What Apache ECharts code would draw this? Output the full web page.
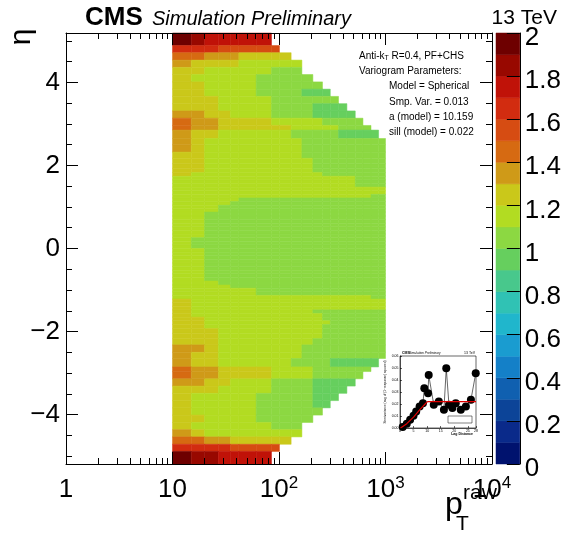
<!DOCTYPE html>
<html>
<head>
<meta charset="utf-8">
<script src="https://cdn.jsdelivr.net/npm/echarts@6/dist/echarts.min.js"></script>
<style>
  html, body { margin: 0; padding: 0; background: #fff; }
  #chart { width: 564px; height: 533px; }
</style>
</head>
<body>
<div id="chart"></div>
<script>
// Raw-pT bin edges (GeV)
const ptEdges = [10, 15, 20, 27, 35, 42, 61, 85, 101, 130, 164, 208, 256, 303, 362, 434, 520, 614, 731, 861, 1000];

// Calorimeter-tower eta edges for |eta|
const etaAbsEdges = [0, 0.087, 0.174, 0.261, 0.348, 0.435, 0.522, 0.609, 0.696, 0.783, 0.879, 0.957,
  1.044, 1.131, 1.218, 1.305, 1.392, 1.479, 1.566, 1.653, 1.740, 1.830, 1.930, 2.043, 2.172, 2.322,
  2.500, 2.650, 2.853, 2.964, 3.139, 3.314, 3.489, 3.664, 3.839, 4.013, 4.191, 4.363, 4.538, 4.716,
  4.889, 5.191];

// Response per (eta row, pT column); rows run from eta = +5.191 down to -5.191,
// each row lists the filled pT bins starting at 10 GeV.
const response = [
  [1.95,1.85,1.75,1.75,1.75,1.75,1.75],
  [1.65,1.65,1.65,1.55,1.55,1.55,1.55,1.55],
  [1.45,1.45,1.35,1.35,1.35,1.25,1.25,1.25,1.25],
  [1.35,1.25,1.25,1.25,1.25,1.15,1.15,1.15,1.15,1.15],
  [1.25,1.25,1.15,1.15,1.15,1.15,1.15,1.05,1.05,1.05],
  [1.25,1.15,1.15,1.15,1.15,1.15,1.05,1.05,1.05,1.05,1.05],
  [1.25,1.25,1.15,1.15,1.15,1.15,1.05,1.05,1.05,1.05,1.05,1.05],
  [1.25,1.25,1.15,1.15,1.15,1.15,1.05,1.05,1.05,1.05,0.95,0.95,0.95],
  [1.25,1.25,1.25,1.15,1.15,1.15,1.15,1.05,1.05,1.05,1.05,1.05,1.05,1.05],
  [1.25,1.25,1.25,1.15,1.15,1.15,1.15,1.05,1.05,1.05,1.05,0.95,0.95,0.95,0.95],
  [1.35,1.35,1.25,1.25,1.15,1.15,1.15,1.05,1.05,1.05,1.05,0.95,0.95,0.95,0.95,0.95],
  [1.45,1.35,1.35,1.25,1.25,1.25,1.25,1.15,1.15,1.15,1.15,1.15,1.05,1.05,1.05,1.05,1.05],
  [1.45,1.35,1.35,1.25,1.25,1.25,1.25,1.25,1.25,1.15,1.15,1.15,1.15,1.15,1.05,1.05,1.05,1.05],
  [1.35,1.25,1.25,1.15,1.15,1.15,1.15,1.15,1.15,1.05,1.05,1.05,1.05,1.05,0.95,0.95,0.95,0.95,0.95],
  [1.35,1.25,1.15,1.15,1.15,1.15,1.15,1.15,1.15,1.15,1.05,1.05,1.05,1.05,1.05,1.05,1.05,1.05,1.05,1.05],
  [1.35,1.25,1.15,1.15,1.15,1.15,1.15,1.15,1.15,1.15,1.05,1.05,1.05,1.05,1.05,1.05,1.05,1.05,1.05,1.05],
  [1.25,1.25,1.15,1.15,1.15,1.15,1.15,1.15,1.15,1.15,1.05,1.05,1.05,1.05,1.05,1.05,1.05,1.05,1.05,1.05],
  [1.25,1.25,1.15,1.15,1.15,1.15,1.15,1.15,1.15,1.15,1.15,1.05,1.05,1.05,1.05,1.05,1.05,1.05,1.05,1.05],
  [1.25,1.25,1.15,1.15,1.15,1.15,1.15,1.15,1.15,1.15,1.15,1.05,1.05,1.05,1.05,1.05,1.05,1.05,1.05,1.05],
  [1.25,1.25,1.15,1.15,1.15,1.15,1.15,1.15,1.15,1.15,1.15,1.05,1.05,1.05,1.05,1.05,1.05,1.05,1.05,1.05],
  [1.25,1.15,1.15,1.15,1.15,1.15,1.15,1.15,1.15,1.15,1.15,1.15,1.05,1.05,1.05,1.05,1.05,1.05,1.05,1.05],
  [1.15,1.15,1.15,1.15,1.15,1.15,1.15,1.15,1.15,1.15,1.15,1.15,1.15,1.15,1.15,1.15,1.05,1.05,1.05,1.05],
  [1.15,1.15,1.15,1.15,1.15,1.15,1.15,1.15,1.15,1.15,1.15,1.15,1.15,1.15,1.15,1.15,1.05,1.05,1.05,1.05],
  [1.15,1.15,1.15,1.15,1.15,1.15,1.15,1.15,1.15,1.15,1.15,1.15,1.15,1.15,1.15,1.15,1.05,1.05,1.05,1.05],
  [1.15,1.15,1.15,1.15,1.15,1.15,1.15,1.15,1.15,1.15,1.15,1.15,1.15,1.15,1.15,1.15,1.15,1.15,1.15,1.15],
  [1.15,1.15,1.15,1.15,1.15,1.15,1.15,1.15,1.15,1.15,1.15,1.15,1.15,1.15,1.15,1.15,1.15,1.15,1.15,1.15],
  [1.15,1.15,1.15,1.15,1.15,1.15,1.15,1.15,1.15,1.15,1.15,1.15,1.15,1.15,1.15,1.15,1.15,1.15,1.05,1.05],
  [1.15,1.15,1.15,1.15,1.15,1.05,1.05,1.05,1.05,1.05,1.05,1.05,1.05,1.05,1.05,1.05,1.05,1.05,1.05,1.05],
  [1.15,1.15,1.15,1.15,1.05,1.05,1.05,1.05,1.05,1.05,1.05,1.05,1.05,1.05,1.05,1.05,1.05,1.05,1.05,1.05],
  [1.15,1.15,1.15,1.05,1.05,1.05,1.05,1.05,1.05,1.05,1.05,1.05,1.05,1.05,1.05,1.05,1.05,1.05,1.05,1.05],
  [1.15,1.15,1.15,1.05,1.05,1.05,1.05,1.05,1.05,1.05,1.05,1.05,1.05,1.05,1.05,1.05,1.05,1.05,1.05,1.05],
  [1.15,1.15,1.05,1.05,1.05,1.05,1.05,1.05,1.05,1.05,1.05,1.05,1.05,1.05,1.05,1.05,1.05,1.05,1.05,1.05],
  [1.15,1.15,1.05,1.05,1.05,1.05,1.05,1.05,1.05,1.05,1.05,1.05,1.05,1.05,1.05,1.05,1.05,1.05,1.05,1.05],
  [1.15,1.15,1.05,1.05,1.05,1.05,1.05,1.05,1.05,1.05,1.05,1.05,1.05,1.05,1.05,1.05,1.05,1.05,1.05,1.05],
  [1.15,1.15,1.05,1.05,1.05,1.05,1.05,1.05,1.05,1.05,1.05,1.05,1.05,1.05,1.05,1.05,1.05,1.05,1.05,1.05],
  [1.15,1.15,1.05,1.05,1.05,1.05,1.05,1.05,1.05,1.05,1.05,1.05,1.05,1.05,1.05,1.05,1.05,1.05,1.05,1.05],
  [1.15,1.15,1.05,1.05,1.05,1.05,1.05,1.05,1.05,1.05,1.05,1.05,1.05,1.05,1.05,1.05,1.05,1.05,1.05,1.05],
  [1.15,1.15,1.05,1.05,1.05,1.05,1.05,1.05,1.05,1.05,1.05,1.05,1.05,1.05,1.05,1.05,1.05,1.05,1.05,1.05],
  [1.15,1.05,1.05,1.05,1.05,1.05,1.05,1.05,1.05,1.05,1.05,1.05,1.05,1.05,1.05,1.05,1.05,1.05,1.05,1.05],
  [1.15,1.05,1.05,1.05,1.05,1.05,1.05,1.05,1.05,1.05,1.05,1.05,1.05,1.05,1.05,1.05,1.05,1.05,1.05,1.05],
  [1.15,1.05,1.05,1.05,1.05,1.05,1.05,1.05,1.05,1.05,1.05,1.05,1.05,1.05,1.05,1.05,1.05,1.05,1.05,1.05],
  [1.15,1.15,1.05,1.05,1.05,1.05,1.05,1.05,1.05,1.05,1.05,1.05,1.05,1.05,1.05,1.05,1.05,1.05,1.05,1.05],
  [1.15,1.15,1.05,1.05,1.05,1.05,1.05,1.05,1.05,1.05,1.05,1.05,1.05,1.05,1.05,1.05,1.05,1.05,1.05,1.05],
  [1.15,1.15,1.05,1.05,1.05,1.05,1.05,1.05,1.05,1.05,1.05,1.05,1.05,1.05,1.05,1.05,1.05,1.05,1.05,1.05],
  [1.15,1.15,1.05,1.05,1.05,1.05,1.05,1.05,1.05,1.05,1.05,1.05,1.05,1.05,1.05,1.05,1.05,1.05,1.05,1.05],
  [1.15,1.15,1.05,1.05,1.05,1.05,1.05,1.05,1.05,1.05,1.05,1.05,1.05,1.05,1.05,1.05,1.05,1.05,1.05,1.05],
  [1.15,1.15,1.05,1.05,1.05,1.05,1.05,1.05,1.05,1.05,1.05,1.05,1.05,1.05,1.05,1.05,1.05,1.05,1.05,1.05],
  [1.15,1.15,1.05,1.05,1.05,1.05,1.05,1.05,1.05,1.05,1.05,1.05,1.05,1.05,1.05,1.05,1.05,1.05,1.05,1.05],
  [1.15,1.15,1.05,1.05,1.05,1.05,1.05,1.05,1.05,1.05,1.05,1.05,1.05,1.05,1.05,1.05,1.05,1.05,1.05,1.05],
  [1.15,1.15,1.05,1.05,1.05,1.05,1.05,1.05,1.05,1.05,1.05,1.05,1.05,1.05,1.05,1.05,1.05,1.05,1.05,1.05],
  [1.15,1.15,1.15,1.05,1.05,1.05,1.05,1.05,1.05,1.05,1.05,1.05,1.05,1.05,1.05,1.05,1.05,1.05,1.05,1.05],
  [1.15,1.15,1.15,1.15,1.05,1.05,1.05,1.05,1.05,1.05,1.05,1.05,1.05,1.05,1.05,1.05,1.05,1.05,1.05,1.05],
  [1.15,1.15,1.15,1.15,1.15,1.15,1.05,1.05,1.05,1.05,1.05,1.05,1.05,1.05,1.05,1.05,1.05,1.05,1.05,1.05],
  [1.15,1.15,1.15,1.15,1.15,1.15,1.05,1.05,1.05,1.05,1.05,1.05,1.05,1.05,1.05,1.05,1.05,1.05,1.05,1.05],
  [1.15,1.15,1.15,1.15,1.15,1.15,1.15,1.15,1.15,1.15,1.15,1.15,1.15,1.15,1.15,1.15,1.15,1.15,1.05,1.05],
  [1.25,1.15,1.15,1.15,1.15,1.15,1.15,1.15,1.15,1.15,1.15,1.15,1.15,1.15,1.15,1.15,1.15,1.15,1.15,1.15],
  [1.25,1.15,1.15,1.15,1.15,1.15,1.15,1.15,1.15,1.15,1.15,1.15,1.15,1.15,1.15,1.15,1.15,1.15,1.15,1.15],
  [1.25,1.15,1.15,1.15,1.15,1.15,1.15,1.15,1.15,1.15,1.15,1.15,1.15,1.15,1.15,1.15,1.15,1.15,1.15,1.15],
  [1.25,1.15,1.15,1.15,1.15,1.15,1.15,1.15,1.15,1.15,1.15,1.05,1.05,1.05,1.05,1.05,1.05,1.05,1.05,1.05],
  [1.25,1.15,1.15,1.15,1.15,1.15,1.15,1.15,1.15,1.15,1.15,1.15,1.05,1.05,1.05,1.05,1.05,1.05,1.05,1.05],
  [1.25,1.25,1.15,1.15,1.15,1.15,1.15,1.15,1.15,1.15,1.15,1.15,1.05,1.05,1.05,1.05,1.05,1.05,1.05,1.05],
  [1.25,1.25,1.15,1.15,1.15,1.15,1.15,1.15,1.15,1.15,1.15,1.15,1.15,1.05,1.05,1.05,1.05,1.05,1.05,1.05],
  [1.25,1.25,1.15,1.15,1.15,1.15,1.15,1.15,1.15,1.15,1.15,1.15,1.05,1.05,1.05,1.05,1.05,1.05,1.05,1.05],
  [1.25,1.25,1.25,1.15,1.15,1.15,1.15,1.15,1.15,1.15,1.15,1.15,1.05,1.05,1.05,1.05,1.05,1.05,1.05,1.05],
  [1.25,1.25,1.25,1.15,1.15,1.15,1.15,1.15,1.15,1.15,1.15,1.15,1.05,1.05,1.05,1.05,1.05,1.05,1.05,1.05],
  [1.25,1.25,1.25,1.15,1.15,1.15,1.15,1.15,1.15,1.15,1.15,1.05,1.05,1.05,1.05,1.05,1.05,1.05,1.05,1.05],
  [1.35,1.35,1.25,1.15,1.15,1.15,1.15,1.15,1.15,1.15,1.05,1.05,1.05,1.05,1.05,1.05,1.05,1.05,1.05,1.05],
  [1.35,1.25,1.25,1.15,1.15,1.15,1.15,1.15,1.15,1.15,1.05,1.05,1.05,1.05,1.05,1.05,1.05,1.05,1.05,1.05],
  [1.35,1.25,1.25,1.15,1.15,1.15,1.15,1.15,1.15,1.05,1.05,1.05,1.05,0.95,0.95,0.95,0.95,0.95,0.95],
  [1.45,1.35,1.35,1.25,1.25,1.25,1.25,1.15,1.15,1.15,1.15,1.05,1.05,1.05,1.05,1.05,1.05,1.05],
  [1.45,1.35,1.35,1.25,1.25,1.25,1.25,1.15,1.15,1.15,1.15,1.05,1.05,1.05,1.05,1.05,1.05],
  [1.35,1.35,1.25,1.25,1.15,1.15,1.15,1.05,1.05,1.05,1.05,0.95,0.95,0.95,0.95,0.95],
  [1.25,1.25,1.25,1.15,1.15,1.15,1.15,1.05,1.05,1.05,1.05,0.95,0.95,0.95,0.95],
  [1.25,1.15,1.15,1.15,1.15,1.15,1.05,1.05,1.05,1.05,1.05,0.95,0.95,0.95],
  [1.25,1.15,1.15,1.15,1.15,1.15,1.05,1.05,1.05,1.05,1.05,0.95,0.95],
  [1.25,1.15,1.15,1.15,1.15,1.15,1.05,1.05,1.05,1.05,1.05,1.05],
  [1.25,1.25,1.15,1.15,1.15,1.15,1.05,1.05,1.05,1.05,1.05],
  [1.25,1.15,1.15,1.15,1.15,1.15,1.15,1.05,1.05,1.05],
  [1.35,1.25,1.15,1.15,1.15,1.15,1.15,1.15,1.15,1.15],
  [1.45,1.45,1.35,1.35,1.25,1.25,1.25,1.25,1.25],
  [1.65,1.65,1.65,1.65,1.55,1.55,1.55,1.55],
  [1.95,1.85,1.85,1.75,1.75,1.75,1.75]
];

// Axis tick labels
const xTickValues = [1, 10, 100, 1000, 10000];
const yTickValues = [-4, -2, 0, 2, 4];
const zTickValues = [0, 0.2, 0.4, 0.6, 0.8, 1, 1.2, 1.4, 1.6, 1.8, 2];

// Colour palette, one entry per 0.1 step of the z range [0, 2]
const palette = ['#00126e', '#0a2a8a', '#0c4498', '#1060b0', '#1480c8', '#1a9cd0', '#20b6cc',
  '#30c2b4', '#48c88c', '#66cf5e', '#8cd842', '#b2dc22', '#cac81a', '#cf9a18', '#d66a12',
  '#d64c12', '#d22c10', '#c01208', '#980800', '#6e0000'];

// Variogram inset: empirical semivariance and fitted spherical model
const lagDistance = [1.0, 2.49, 3.73, 4.98, 5.97, 7.22, 8.46, 8.96, 10.33, 10.58, 12.44, 14.31,
  16.18, 17.05, 18.04, 19.29, 20.53, 22.4, 24.27, 26.13, 27.9];
const semivariance = [0.0008, 0.0036, 0.0069, 0.0102, 0.0138, 0.018, 0.0207, 0.0332, 0.029, 0.0442,
  0.0194, 0.0221, 0.0152, 0.0498, 0.0194, 0.0166, 0.0207, 0.0152, 0.018, 0.0235, 0.0456];
const modelLag = [0.2, 2.49, 4.98, 7.47, 9.33, 10.16, 28];
const modelGamma = [0, 0.0036, 0.0091, 0.0158, 0.0202, 0.022, 0.022];

// Legend text block
const infoLines = ['Anti-k{sub|T} R=0.4, PF+CHS', 'Variogram Parameters:', 'Model = Spherical',
  'Smp. Var. = 0.013', 'a (model) = 10.159', 'sill (model) = 0.022'];

// ---------------------------------------------------------------------------

const FONT = '"Liberation Sans", Arial, Helvetica, sans-serif';

const etaEdges = etaAbsEdges.slice().reverse().concat(etaAbsEdges.slice(1).map(e => -e));

const cells = [];
response.forEach((row, i) => {
  row.forEach((v, j) => {
    cells.push([ptEdges[j], ptEdges[j + 1], etaEdges[i + 1], etaEdges[i], v]);
  });
});

function colourFor(v) {
  const idx = Math.max(0, Math.min(palette.length - 1, Math.floor(v * 10 + 1e-6)));
  return palette[idx];
}

const bands = palette.map((c, i) => [0, 1, i * 0.1, (i + 1) * 0.1, i]);

const xMinor = [];
for (let d = 1; d < 10000; d *= 10) {
  for (let k = 2; k <= 9; k++) xMinor.push(k * d);
}
const yMinor = [];
for (let v = -5; v <= 5.0001; v += 0.5) {
  const r = Math.round(v * 10) / 10;
  if (yTickValues.indexOf(r) < 0) yMinor.push(r);
}

const black = { color: '#000', width: 1 };

function logX(position, ticks, len, showLine, labels) {
  return {
    gridIndex: 0, type: 'log', logBase: 10, min: 1, max: 10000, position: position, z: 10,
    axisLine: { show: showLine, onZero: false, lineStyle: black },
    axisTick: { show: true, inside: true, length: len, customValues: ticks, lineStyle: black },
    axisLabel: labels ? labels : { show: false },
    splitLine: { show: false }, minorTick: { show: false }
  };
}
function linY(position, ticks, len, showLine, labels) {
  return {
    gridIndex: 0, type: 'value', min: -5.191, max: 5.191, position: position, z: 10,
    axisLine: { show: showLine, onZero: false, lineStyle: black },
    axisTick: { show: true, inside: true, length: len, customValues: ticks, lineStyle: black },
    axisLabel: labels ? labels : { show: false },
    splitLine: { show: false }
  };
}

const xLabels = {
  show: true, customValues: xTickValues, margin: 11, color: '#000',
  fontFamily: FONT, fontSize: 26,
  formatter: function (v) {
    if (v < 5) return '{b|1}';
    if (v < 50) return '{b|10}';
    return '{b|10}{s|' + Math.round(Math.log10(v)) + '}';
  },
  rich: {
    b: { fontFamily: FONT, fontSize: 26, lineHeight: 30, color: '#000' },
    s: { fontFamily: FONT, fontSize: 17, lineHeight: 30, verticalAlign: 'top', color: '#000' }
  }
};
const yLabels = {
  show: true, customValues: yTickValues, margin: 6, color: '#000',
  fontFamily: FONT, fontSize: 26,
  formatter: v => (v < 0 ? '\u2212' + Math.abs(v) : String(v))
};

const option = {
  animation: false,
  backgroundColor: '#fff',
  grid: [
    { left: 66, top: 33, width: 426, height: 431, show: false },
    { left: 496, top: 33, width: 26, height: 431, show: false },
    { left: 400, top: 356, width: 76, height: 72, show: true, borderColor: '#000', borderWidth: 0.6, backgroundColor: '#fff', z: 3 }
  ],
  xAxis: [
    logX('bottom', xTickValues, 12, true, xLabels),
    logX('bottom', xMinor, 6, false),
    logX('top', xTickValues, 12, true),
    logX('top', xMinor, 6, false),
    { gridIndex: 1, type: 'value', min: 0, max: 1, show: false },
    {
      gridIndex: 2, type: 'value', min: 0, max: 28, interval: 5, z: 4,
      axisLine: { onZero: false, lineStyle: { color: '#000', width: 0.6 } },
      axisTick: { inside: true, length: 2, lineStyle: { color: '#000', width: 0.6 } },
      axisLabel: { fontSize: 3.5, margin: 1.5, color: '#000', fontFamily: FONT },
      splitLine: { show: false }
    }
  ],
  yAxis: [
    linY('left', yTickValues, 12, true, yLabels),
    linY('left', yMinor, 6, false),
    linY('right', yTickValues, 12, true),
    linY('right', yMinor, 6, false),
    {
      gridIndex: 1, type: 'value', min: 0, max: 2, interval: 0.2, position: 'right', z: 10,
      axisLine: { show: true, onZero: false, lineStyle: black },
      axisTick: { show: true, inside: true, length: 13, lineStyle: black },
      axisLabel: {
        show: true, customValues: zTickValues, margin: 5, color: '#000', fontFamily: FONT, fontSize: 26,
        verticalAlign: 'top', lineHeight: 10
      },
      splitLine: { show: false }
    },
    {
      gridIndex: 2, type: 'value', min: 0, max: 0.06, interval: 0.01, z: 4,
      axisLine: { onZero: false, lineStyle: { color: '#000', width: 0.6 } },
      axisTick: { inside: true, length: 2, lineStyle: { color: '#000', width: 0.6 } },
      axisLabel: { fontSize: 3.5, margin: 1.5, color: '#000', fontFamily: FONT, formatter: v => v.toFixed(2) },
      splitLine: { show: false }
    }
  ],
  series: [
    {
      name: 'response', type: 'custom', xAxisIndex: 0, yAxisIndex: 0, z: 1,
      dimensions: ['ptLow', 'ptHigh', 'etaLow', 'etaHigh', 'value'],
      encode: { x: [0, 1], y: [2, 3] },
      data: cells,
      renderItem: function (params, api) {
        const a = api.coord([api.value(0), api.value(3)]);
        const b = api.coord([api.value(1), api.value(2)]);
        const c = colourFor(api.value(4));
        return {
          type: 'rect',
          shape: { x: a[0], y: a[1], width: b[0] - a[0], height: b[1] - a[1] },
          style: { fill: c, stroke: c, lineWidth: 0.5 }
        };
      }
    },
    {
      name: 'palette', type: 'custom', xAxisIndex: 4, yAxisIndex: 4, z: 1,
      encode: { x: [0, 1], y: [2, 3] },
      data: bands,
      renderItem: function (params, api) {
        const a = api.coord([api.value(0), api.value(3)]);
        const b = api.coord([api.value(1), api.value(2)]);
        const c = palette[api.value(4)];
        return {
          type: 'rect',
          shape: { x: a[0], y: a[1], width: b[0] - a[0], height: b[1] - a[1] },
          style: { fill: c, stroke: c, lineWidth: 0.5 }
        };
      }
    },
    {
      name: 'semivariance', type: 'line', xAxisIndex: 5, yAxisIndex: 5, z: 5,
      data: lagDistance.map((x, i) => [x, semivariance[i]]),
      symbol: 'circle', symbolSize: 8,
      itemStyle: { color: '#000' },
      lineStyle: { color: '#000', width: 0.6 }
    },
    {
      name: 'model', type: 'line', xAxisIndex: 5, yAxisIndex: 5, z: 6,
      data: modelLag.map((x, i) => [x, modelGamma[i]]),
      symbol: 'none',
      lineStyle: { color: '#e00000', width: 1.2 }
    }
  ],
  graphic: [
    { type: 'text', x: 85, y: 18, style: { text: 'CMS', font: 'bold 26px ' + FONT, fill: '#000', align: 'left', verticalAlign: 'middle' } },
    { type: 'text', x: 152, y: 19, style: { text: 'Simulation Preliminary', font: 'italic 20px ' + FONT, fill: '#000', align: 'left', verticalAlign: 'middle' } },
    { type: 'text', x: 557, y: 18, style: { text: '13 TeV', font: '21px ' + FONT, fill: '#000', align: 'right', verticalAlign: 'middle' } },
    { type: 'text', x: 22, y: 37, rotation: Math.PI / 2, style: { text: '\u03b7', font: '30px ' + FONT, fill: '#000', align: 'center', verticalAlign: 'middle' } },
    { type: 'text', x: 445, y: 505, style: { text: 'p', font: '32px ' + FONT, fill: '#000', align: 'left', verticalAlign: 'middle' } },
    { type: 'text', x: 463, y: 493, style: { text: 'raw', font: '21px ' + FONT, fill: '#000', align: 'left', verticalAlign: 'middle' } },
    { type: 'text', x: 456, y: 524, style: { text: 'T', font: '21px ' + FONT, fill: '#000', align: 'left', verticalAlign: 'middle' } },
    {
      type: 'text', x: 359, y: 56, z: 20,
      style: {
        text: infoLines[0], font: '10px ' + FONT, fill: '#000', align: 'left', verticalAlign: 'middle',
        rich: { sub: { fontSize: 7, fontFamily: FONT, padding: [5, 0, 0, 0] } }
      }
    },
    ...infoLines.slice(1).map((t, i) => ({
      type: 'text', x: i === 0 ? 359 : 389, y: [71.7, 86.7, 102.3, 117.7, 132.3][i], z: 20,
      style: { text: t, font: '10px ' + FONT, fill: '#000', align: 'left', verticalAlign: 'middle' }
    })),
    { type: 'text', x: 402, y: 353, z: 20, style: { text: 'CMS', font: 'bold 3.5px ' + FONT, fill: '#000', verticalAlign: 'middle' } },
    { type: 'text', x: 409, y: 353, z: 20, style: { text: 'Simulation Preliminary', font: 'italic 3.2px ' + FONT, fill: '#000', verticalAlign: 'middle' } },
    { type: 'text', x: 475, y: 353, z: 20, style: { text: '13 TeV', font: '3.5px ' + FONT, fill: '#000', align: 'right', verticalAlign: 'middle' } },
    { type: 'text', x: 473, y: 434, z: 20, style: { text: 'Lag Distance', font: 'bold 3.5px ' + FONT, fill: '#000', align: 'right', verticalAlign: 'middle' } },
    { type: 'text', x: 385, y: 392, rotation: Math.PI / 2, z: 20, style: { text: 'Semivariance (avg of (1\u2212response) squared)', font: '3.2px ' + FONT, fill: '#000', align: 'center', verticalAlign: 'middle' } },
    { type: 'rect', x: 448, y: 416, z: 20, shape: { width: 24, height: 7 }, style: { fill: '#fff', stroke: '#000', lineWidth: 0.5 } }
  ]
};

const chart = echarts.init(document.getElementById('chart'), null, { renderer: 'canvas' });
chart.setOption(option);
</script>
</body>
</html>
